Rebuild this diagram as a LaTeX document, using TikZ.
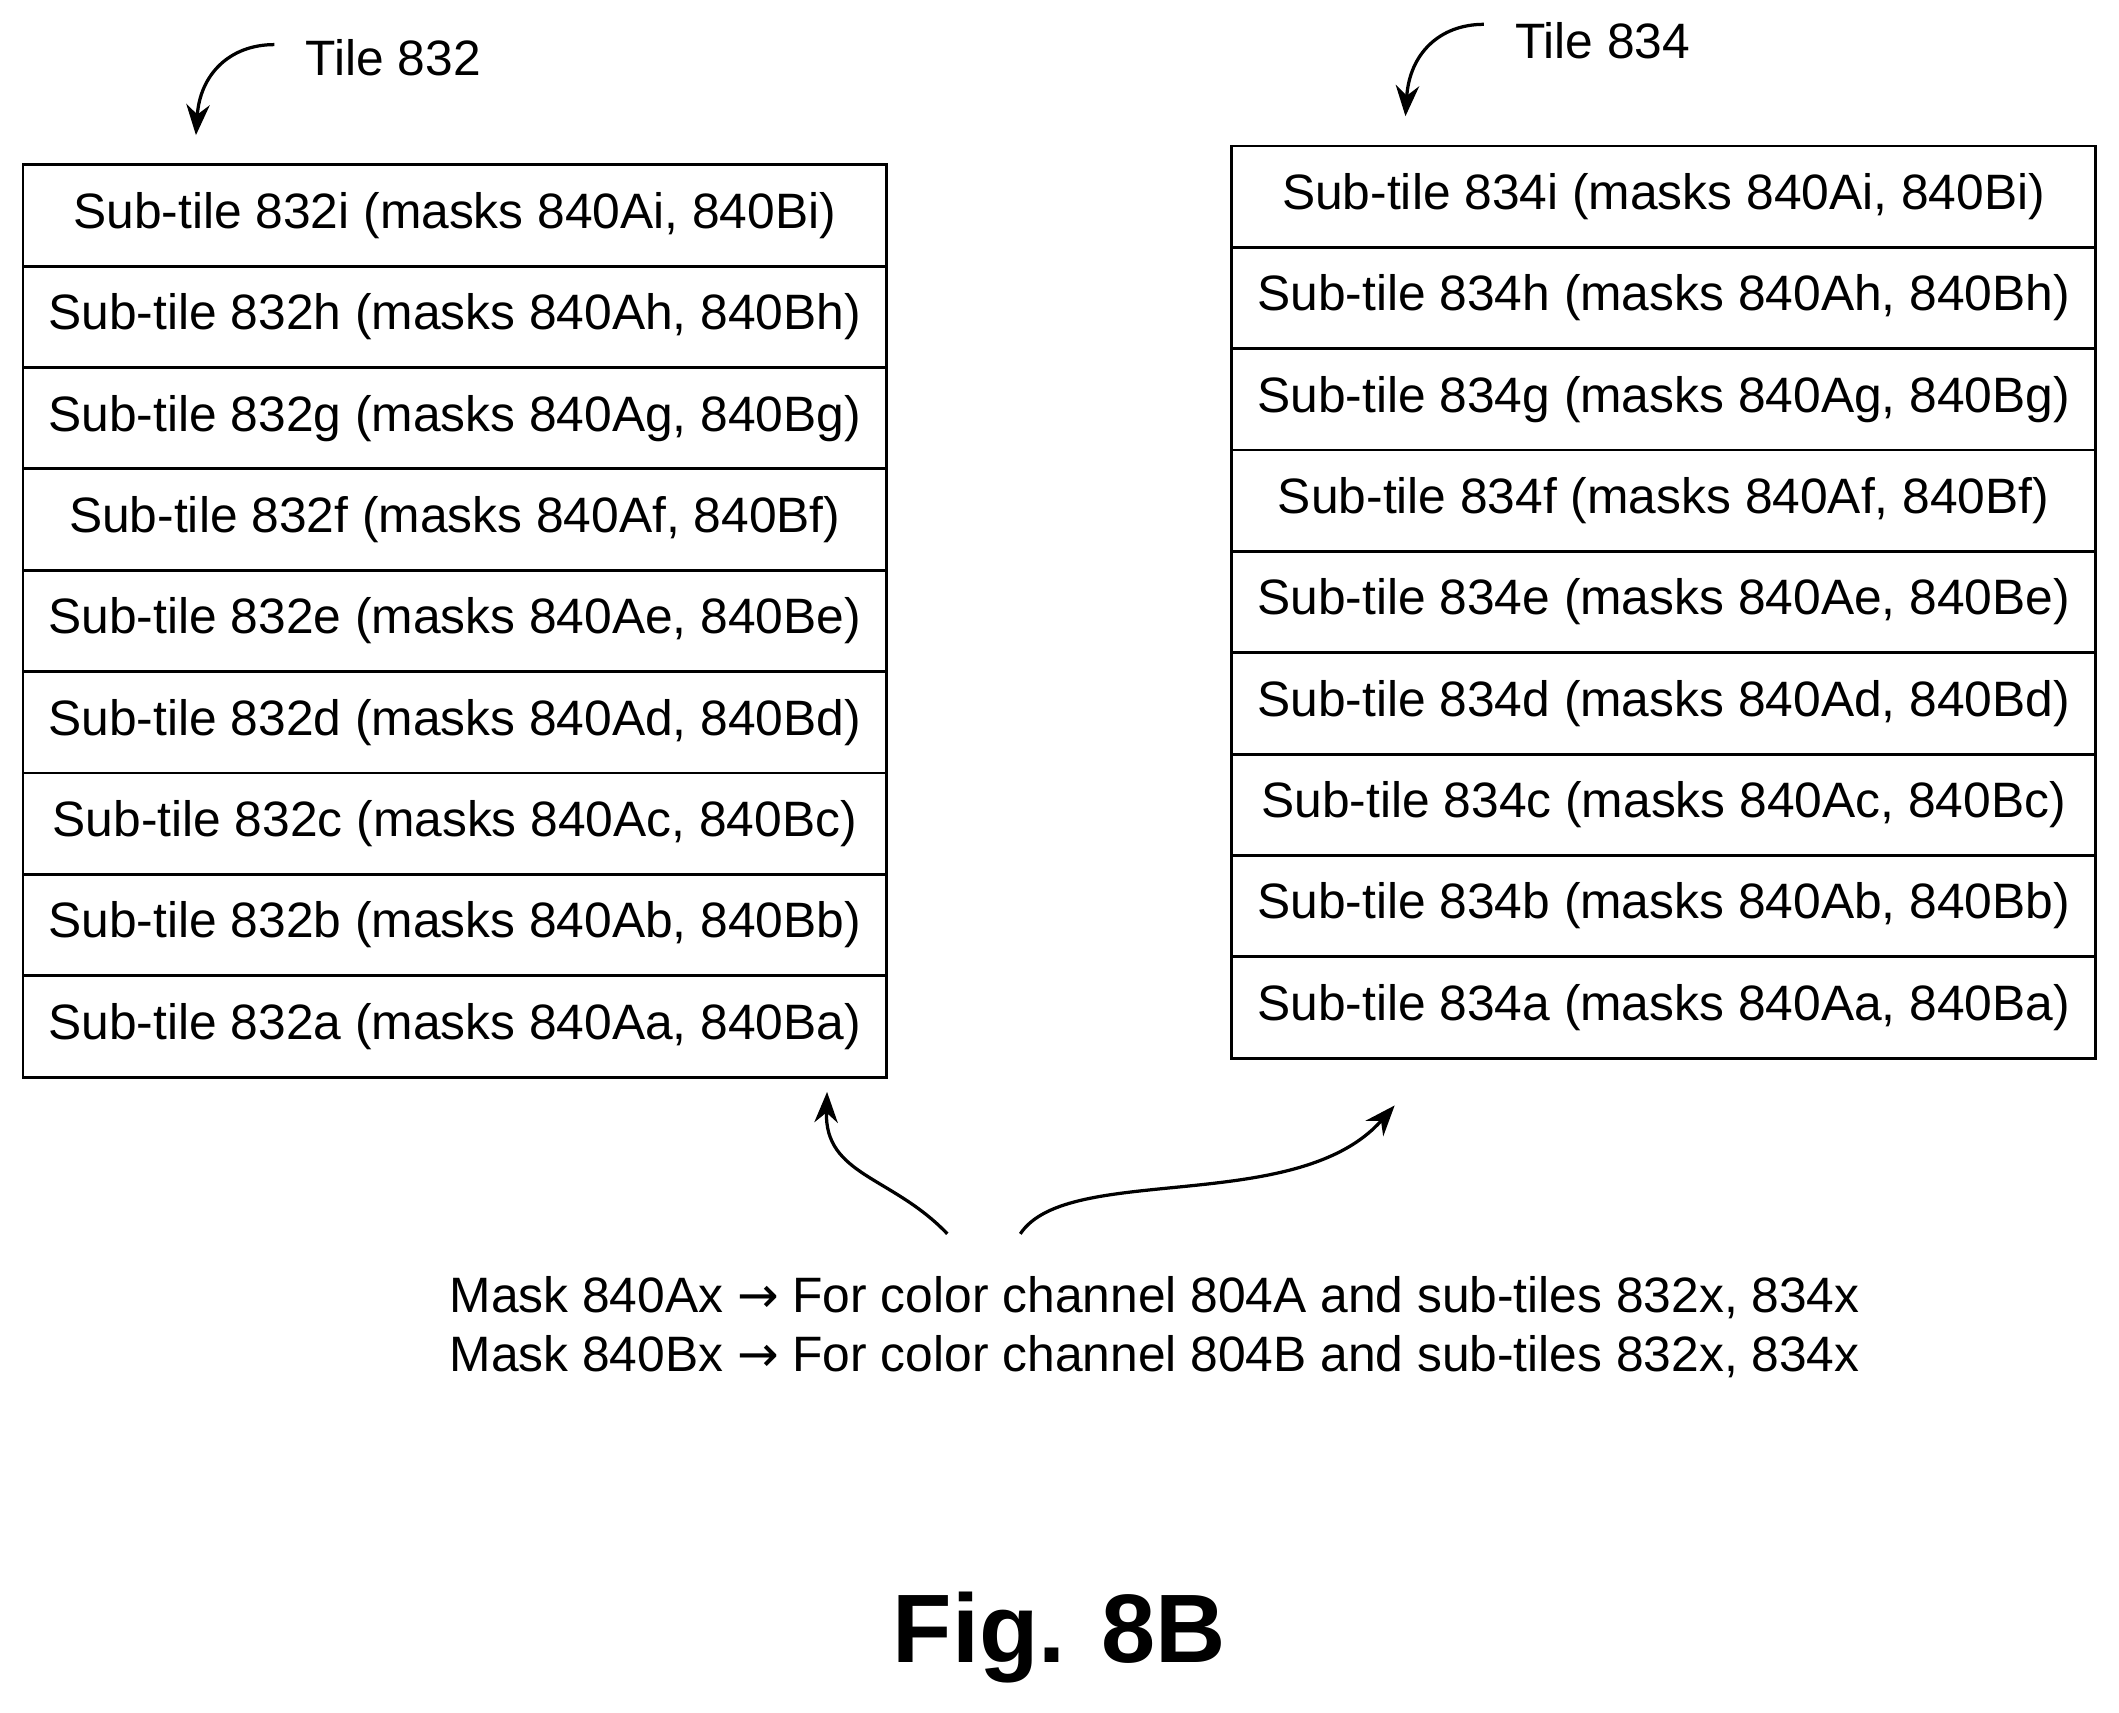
\documentclass[tikz,border=0pt]{standalone}
\usepackage{fontspec}
\setmainfont{Liberation Sans}
\newfontfamily\symfont{DejaVu Sans}
\usetikzlibrary{arrows.meta}

\begin{document}
\begin{tikzpicture}[x=0.75pt,y=0.75pt,yscale=-1,xscale=1,
  subtile/.style={draw,line width=1.6pt,minimum width=479.25pt,minimum height=56.25pt,inner sep=0pt,font=\fontsize{27.6}{31}\selectfont},
  curvearrow/.style={line width=1.8pt,-{Stealth[length=17pt,width=13pt]}}]
\useasboundingbox (0,0) rectangle (1568,1267);

%Tile 832 rows
\foreach \l [count=\i from 0] in {i,h,g,f,e,d,c,b,a}
  \node[subtile] (L\l) at (336.5,159.5+75*\i) {Sub-tile 832\l\ (masks 840A\l, 840B\l)};
%Tile 834 rows
\foreach \l [count=\i from 0] in {i,h,g,f,e,d,c,b,a}
  \node[subtile] (R\l) at (1231,145.5+75*\i) {Sub-tile 834\l\ (masks 840A\l, 840B\l)};

%Tile labels
\node[font=\fontsize{27.6}{31}\selectfont] (tileL) at (291,43) {Tile 832};
\node[font=\fontsize{27.6}{31}\selectfont] (tileR) at (1186,30) {Tile 834};
\coordinate (tLs) at (203,33);
\coordinate (tLe) at (145,100);
\coordinate (tRs) at (1098,18);
\coordinate (tRe) at (1040,86);
\draw[curvearrow] (tLs) .. controls (170,33) and (148,55) .. (tLe);
\draw[curvearrow] (tRs) .. controls (1065,18) and (1043,40) .. (tRe);

%Legend
\node[anchor=west,font=\fontsize{27.6}{31}\selectfont,align=left] (legend) at (328,982)
  {Mask 840Ax {\symfont→} For color channel 804A and sub-tiles 832x, 834x\\[2pt]
   Mask 840Bx {\symfont→} For color channel 804B and sub-tiles 832x, 834x};
\coordinate (bLs) at (701,913);
\coordinate (bLe) at (612,808);
\coordinate (bRs) at (755,913);
\coordinate (bRe) at (1032,818);
\draw[curvearrow] (bLs) .. controls (660,870) and (610,870) .. (bLe);
\draw[curvearrow] (bRs) .. controls (790,860) and (960,900) .. (bRe);

%Figure label
\node[font=\bfseries\fontsize{54}{60}\selectfont] (fig) at (784,1212) {Fig. 8B};
\end{tikzpicture}
\end{document}
